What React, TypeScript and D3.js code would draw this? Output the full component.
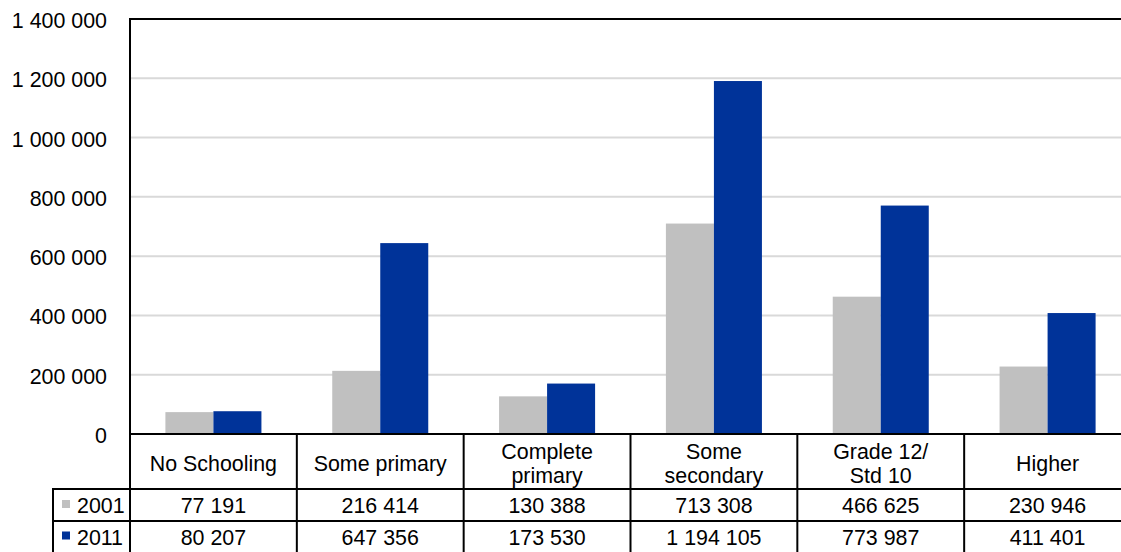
import React, { useEffect, useRef } from 'react';
import * as d3 from 'd3';

const categories = ['No Schooling', 'Some primary', 'Complete primary', 'Some secondary', 'Grade 12/ Std 10', 'Higher'];
const categoryLines = [['No Schooling'], ['Some primary'], ['Complete', 'primary'], ['Some', 'secondary'], ['Grade 12/', 'Std 10'], ['Higher']];
const seriesNames = ['2001', '2011'];
const values2001 = [77191, 216414, 130388, 713308, 466625, 230946];
const values2011 = [80207, 647356, 173530, 1194105, 773987, 411401];
const yTicks = [0, 200000, 400000, 600000, 800000, 1000000, 1200000, 1400000];
const colors = ['#c0c0c0', '#003399'];

const W = 1121;
const H = 552;
const FONT = '"Liberation Sans", Arial, sans-serif';
const FS = '21.4px';

const fmt = (v: number) => d3.format(',')(v).replace(/,/g, ' ');

const App: React.FC = () => {
  const ref = useRef<SVGSVGElement | null>(null);

  useEffect(() => {
    if (!ref.current) return;
    const svg = d3.select(ref.current);
    svg.selectAll('*').remove();

    const left = 130;
    const right = 1131;
    const top = 19;
    const bottom = 434;
    const row1 = 489;
    const row2 = 521;
    const legendLeft = 53;

    const x = d3.scaleBand<string>().domain(categories).range([left, right]).padding(0);
    const xs = d3.scaleBand<string>().domain(seriesNames).range([0, x.bandwidth()]).paddingInner(0).paddingOuter(0.7375);
    const y = d3.scaleLinear().domain([0, 1400000]).range([bottom, top]);

    const series = [values2001, values2011];

    // gridlines
    svg.append('g')
      .selectAll('line')
      .data(yTicks.slice(1, -1))
      .enter().append('line')
      .attr('x1', left).attr('x2', W)
      .attr('y1', d => y(d)).attr('y2', d => y(d))
      .style('stroke', '#d9d9d9')
      .style('stroke-width', 2);

    // y tick labels
    svg.append('g')
      .selectAll('text')
      .data(yTicks)
      .enter().append('text')
      .attr('x', 107)
      .attr('y', d => y(d))
      .attr('dy', '0.42em')
      .attr('text-anchor', 'end')
      .style('font-family', FONT)
      .style('font-size', FS)
      .style('fill', '#000')
      .text(d => fmt(d));

    // bars
    series.forEach((vals, si) => {
      svg.append('g')
        .selectAll('rect')
        .data(vals)
        .enter().append('rect')
        .attr('x', (d, i) => (x(categories[i]) ?? 0) + (xs(seriesNames[si]) ?? 0))
        .attr('y', d => y(d) + 1)
        .attr('width', xs.bandwidth())
        .attr('height', d => bottom - y(d))
        .style('fill', colors[si]);
    });

    const line = (x1: number, y1: number, x2: number, y2: number) =>
      svg.append('line')
        .attr('x1', x1).attr('y1', y1).attr('x2', x2).attr('y2', y2)
        .style('stroke', '#000')
        .style('stroke-width', 2);

    // plot frame
    line(left, top, W, top);
    line(left, top - 1, left, H);
    line(left - 1, bottom, W, bottom);

    // table lines
    line(legendLeft, row1, W, row1);
    line(legendLeft, row2, W, row2);
    line(legendLeft, row1 - 1, legendLeft, H);
    categories.forEach(c => {
      const cx = x(c) ?? 0;
      if (cx > left) line(cx, bottom, cx, H);
    });

    // category labels
    categories.forEach((c, i) => {
      const lines = categoryLines[i];
      const cx = (x(c) ?? 0) + x.bandwidth() / 2;
      const mid = (bottom + row1) / 2 + 2;
      lines.forEach((t, li) => {
        svg.append('text')
          .attr('x', cx)
          .attr('y', mid + (li - (lines.length - 1) / 2) * 24)
          .attr('dy', '0.35em')
          .attr('text-anchor', 'middle')
          .style('font-family', FONT)
          .style('font-size', FS)
          .text(t);
      });
    });

    // value rows
    const rowMids = [(row1 + row2) / 2 + 1, (row2 + H) / 2 + 1];
    series.forEach((vals, si) => {
      svg.append('g')
        .selectAll('text')
        .data(vals)
        .enter().append('text')
        .attr('x', (d, i) => (x(categories[i]) ?? 0) + x.bandwidth() / 2)
        .attr('y', rowMids[si])
        .attr('dy', '0.35em')
        .attr('text-anchor', 'middle')
        .style('font-family', FONT)
        .style('font-size', FS)
        .text(d => fmt(d));

      svg.append('rect')
        .attr('x', 62).attr('y', rowMids[si] - 6)
        .attr('width', 8).attr('height', 8)
        .style('fill', colors[si]);
      svg.append('text')
        .attr('x', 77).attr('y', rowMids[si])
        .attr('dy', '0.35em')
        .style('font-family', FONT)
        .style('font-size', FS)
        .text(seriesNames[si]);
    });
  }, []);

  return (
    <div style={{ position: 'absolute', left: 0, top: 0, width: W, height: H, background: '#fff', overflow: 'hidden' }}>
      <svg ref={ref} width={W} height={H} />
    </div>
  );
};

export default App;
